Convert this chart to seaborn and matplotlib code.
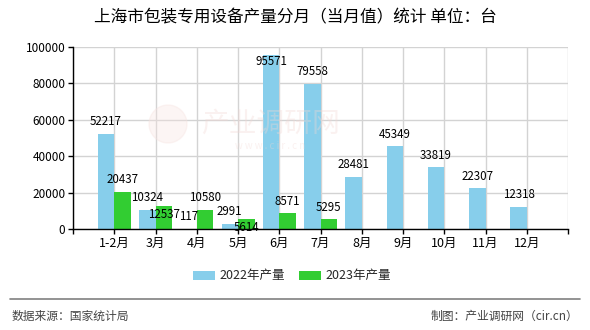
import numpy as np
import pandas as pd
import matplotlib
matplotlib.use("Agg")
import matplotlib.pyplot as plt
from matplotlib.patches import Patch, Ellipse
import seaborn as sns

# Monthly output of packaging equipment in Shanghai (units)
months = ["1-2月", "3月", "4月", "5月", "6月", "7月", "8月", "9月", "10月", "11月", "12月"]
output_2022 = [52217, 10324, 117, 2991, 95571, 79558, 28481, 45349, 33819, 22307, 12318]
output_2023 = [20437, 12537, 10580, 5614, 8571, 5295, np.nan, np.nan, np.nan, np.nan, np.nan]
series_names = ["2022年产量", "2023年产量"]
y_ticks = [0, 20000, 40000, 60000, 80000, 100000]

colors = {"2022年产量": "#87CEEB", "2023年产量": "#32CD32"}

sns.set_theme(style="white")
plt.rcParams["font.family"] = ["Noto Sans CJK SC", "DejaVu Sans"]
plt.rcParams["axes.unicode_minus"] = False

df = pd.DataFrame({
    "month": months * 2,
    "value": output_2022 + output_2023,
    "series": [series_names[0]] * len(months) + [series_names[1]] * len(months),
})

fig = plt.figure(figsize=(5.9, 3.3), dpi=100)
ax = fig.add_axes([73 / 590, 1 - 229 / 330, (568 - 73) / 590, (229 - 46.7) / 330])

sns.barplot(data=df, x="month", y="value", hue="series", order=months,
            hue_order=series_names, palette=colors, width=0.8, saturation=1,
            dodge=True, legend=False, ax=ax, zorder=3, linewidth=0, edgecolor="none")

# axes, grid and ticks
ax.set_xlim(-1, len(months))
ax.set_ylim(0, 100000)
ax.set_xticks(range(-1, len(months) + 1))
ax.set_xticklabels([""] + months + [""], fontsize=9)
ax.set_yticks(y_ticks)
ax.set_yticklabels([str(v) for v in y_ticks], fontsize=8.5)
ax.grid(True, axis="both", color="#d3d3d3", linewidth=1, zorder=0)
ax.set_axisbelow(True)
for side in ["top", "right"]:
    ax.spines[side].set_visible(False)
for side in ["left", "bottom"]:
    ax.spines[side].set_color("black")
    ax.spines[side].set_linewidth(1)
    ax.spines[side].set_zorder(5)
ax.tick_params(axis="both", which="both", length=3.5, width=1, color="black",
               left=True, bottom=True, pad=2, labelcolor="black")
ax.set_xlabel("")
ax.set_ylabel("")

# value labels; a few are tucked inside the bar where space is tight
nudge = {12537: -6.0, 5614: -6.5, 95571: -5.0}
for container in ax.containers:
    for bar in container:
        h = bar.get_height()
        if np.isnan(h):
            continue
        val = int(round(h))
        dy = nudge.get(val, 8.8)
        ax.annotate(str(val), (bar.get_x() + bar.get_width() / 2, h),
                    xytext=(0, dy), textcoords="offset points",
                    ha="center", va="center", fontsize=8.3, color="black",
                    zorder=6, annotation_clip=False)

# faint site mark behind the bars
fig.patches.append(Ellipse((168 / 590, 1 - 124 / 330), 38 / 590, 38 / 330,
                           transform=fig.transFigure, color="#f7e3e0",
                           alpha=0.35, zorder=1))
fig.text(270 / 590, 1 - 124 / 330, "产业调研网", fontsize=20, color="#f3d8d4",
         alpha=0.35, ha="center", va="center")
fig.text(270 / 590, 1 - 146 / 330, "w w w . c i r . c n", fontsize=7,
         color="#f3d8d4", alpha=0.35, ha="center", va="center")

# title
fig.text(0.5, 1 - 18 / 330, "上海市包装专用设备产量分月（当月值）统计 单位：台",
         fontsize=12, ha="center", va="center", color="black")

# legend
handles = [Patch(facecolor=colors[n], edgecolor="none", label=n) for n in series_names]
fig.legend(handles=handles, loc="center", bbox_to_anchor=(292 / 590, 1 - 276 / 330),
           ncol=2, frameon=False, fontsize=9, handlelength=1.8, handleheight=0.75,
           handletextpad=0.35, columnspacing=1.1, borderaxespad=0)

# footer
fig.add_artist(plt.Line2D([10 / 590, 580 / 590], [1 - 299 / 330, 1 - 299 / 330],
                          transform=fig.transFigure, color="#808080", linewidth=1.2))
fig.text(12 / 590, 1 - 316 / 330, "数据来源：国家统计局", fontsize=8.5,
         color="#444444", ha="left", va="center")
fig.text(578 / 590, 1 - 316 / 330, "制图：产业调研网（cir.cn）", fontsize=8.5,
         color="#444444", ha="right", va="center")

fig.savefig("out.png", dpi=100)
